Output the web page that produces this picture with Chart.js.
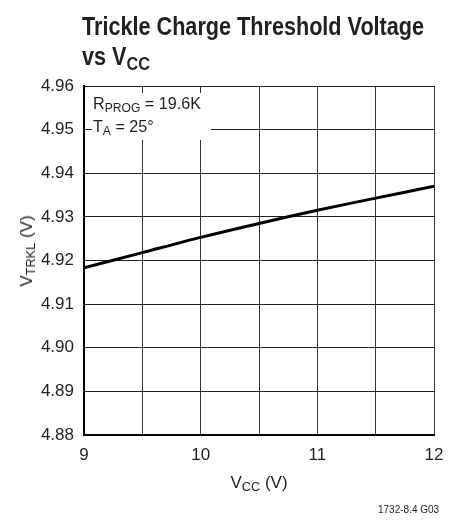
<!DOCTYPE html>
<html>
<head>
<meta charset="utf-8">
<script src="https://cdn.jsdelivr.net/npm/chart.js@4"></script>
<style>
  html, body { margin: 0; padding: 0; background: #fff; }
  #wrap { position: relative; width: 464px; height: 520px; font-family: "Liberation Sans Narrow", "Arial Narrow", "Liberation Sans", sans-serif; color: #231f20; }
  canvas { position: absolute; left: 0; top: 0; }
  .t { position: absolute; white-space: nowrap; transform-origin: 0 0; }
  sub { font-size: 75%; vertical-align: -0.25em; line-height: 0; }
  #title { left: 82px; top: 11px; font-weight: bold; font-size: 25px; line-height: 30px; transform: scaleX(0.865); }
  #note { left: 93px; top: 92px; font-size: 17px; line-height: 23px; transform: scaleX(0.95); }
  #xt { left: 0; width: 518px; top: 473px; text-align: center; font-size: 17px; }
  #yt { left: 27px; top: 251px; font-size: 17px; transform-origin: 50% 50%; transform: translate(-50%, -50%) rotate(-90deg); }
  #foot { left: 378px; top: 504px; font-size: 10px; }
</style>
</head>
<body>
<div id="wrap">
  <canvas id="chart" width="464" height="520"></canvas>
  <div class="t" id="title">Trickle Charge Threshold Voltage<br>vs V<sub>CC</sub></div>
  <div class="t" id="note">R<sub>PROG</sub> = 19.6K<br>T<sub>A</sub> = 25°</div>
  <div class="t" id="xt">V<sub>CC</sub> (V)</div>
  <div class="t" id="yt">V<sub>TRKL</sub> (V)</div>
  <div class="t" id="foot">1732-8.4 G03</div>
</div>
<script>
const vcc = [9, 9.5, 10, 10.5, 11, 11.5, 12];
const vtrkl = [4.9183, 4.9218, 4.9253, 4.9285, 4.9315, 4.9343, 4.937];
const xMin = 9, xMax = 12, xStep = 0.5;
const yMin = 4.88, yMax = 4.96, yStep = 0.01;

const FONT = '"Liberation Sans Narrow", "Arial Narrow", "Liberation Sans", sans-serif';

// white box behind the condition text (only hides the grid under the text)
const noteBox = {
  id: 'noteBox',
  beforeDatasetsDraw(chart) {
    const a = chart.chartArea;
    const c = chart.ctx;
    c.save();
    c.fillStyle = '#fff';
    c.fillRect(a.left + 8, a.top + 7, 119, 47);
    c.restore();
  }
};

new Chart(document.getElementById('chart'), {
  type: 'line',
  data: {
    datasets: [{
      data: vcc.map((x, i) => ({ x, y: vtrkl[i] })),
      borderColor: '#000',
      borderWidth: 3,
      pointRadius: 0,
      tension: 0.3,
      fill: false
    }]
  },
  options: {
    responsive: false,
    animation: false,
    layout: { padding: { top: 86, right: 30, left: 0, bottom: 0 } },
    plugins: { legend: { display: false }, tooltip: { enabled: false } },
    scales: {
      x: {
        type: 'linear', min: xMin, max: xMax,
        afterFit: s => { s.height = 85; },
        afterBuildTicks: s => {
          s.ticks = [];
          for (let v = xMin; v <= xMax + 1e-9; v += xStep) s.ticks.push({ value: v });
        },
        ticks: {
          color: '#231f20', padding: 10, maxRotation: 0, autoSkip: false,
          font: { family: FONT, size: 17 },
          callback: v => Number.isInteger(v) ? String(v) : ''
        },
        grid: { color: '#333', lineWidth: 1, drawTicks: false },
        border: { color: '#000', width: 2 }
      },
      y: {
        type: 'linear', min: yMin, max: yMax,
        afterFit: s => { s.width = 84; },
        afterBuildTicks: s => {
          s.ticks = [];
          for (let i = 0; i <= Math.round((yMax - yMin) / yStep); i++) s.ticks.push({ value: yMin + i * yStep });
        },
        ticks: {
          color: '#231f20', padding: 10, autoSkip: false,
          font: { family: FONT, size: 17 },
          callback: v => v.toFixed(2)
        },
        grid: { color: '#222', lineWidth: 1, drawTicks: false },
        border: { color: '#000', width: 2 }
      }
    }
  },
  plugins: [noteBox]
});
</script>
</body>
</html>
